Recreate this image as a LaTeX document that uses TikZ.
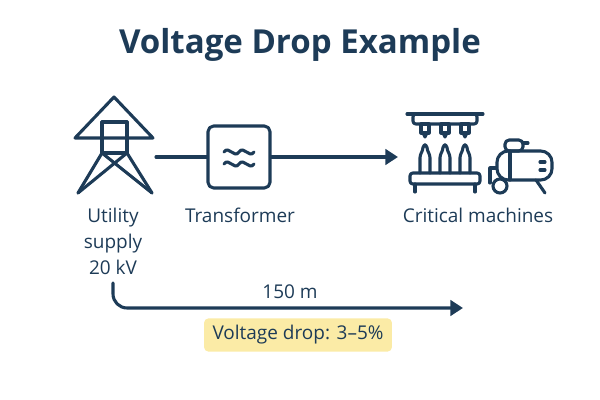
\documentclass[tikz,border=0pt]{standalone}
\usepackage{fontspec}
\setmainfont{Open Sans}
\usetikzlibrary{arrows.meta}
\definecolor{navy}{HTML}{1D3B57}
\definecolor{note}{HTML}{FBEBA6}
\begin{document}
\begin{tikzpicture}[x=0.025cm,y=-0.025cm,line width=2.2pt,draw=navy,line join=round,line cap=round,
  label text/.style={text=navy,font=\fontsize{13.5}{18.5}\selectfont,align=center},
  flow/.style={draw=navy,-{Triangle[length=9pt,width=11pt]}}]
\useasboundingbox (0,0) rectangle (600,400);

\node[text=navy,font=\fontsize{23.5}{26}\selectfont\bfseries] (title) at (300,45) {Voltage Drop Example};

% tower
\draw (75,138) -- (114,97) -- (153,138) -- cycle;
\draw (102,122) -- (127,122);
\draw (102,122) -- (102,153) -- (127,153) -- (127,122);
\draw (102,153) -- (78,193) (127,153) -- (152,193);
\draw (102,153) -- (152,193) (127,153) -- (78,193);
\coordinate (tower) at (156,157);

% transformer
\node[draw=navy,rounded corners=4pt,minimum size=1.55cm] (trafo) at (239,157) {};
\draw (224,152) .. controls (229,145) and (234,159) .. (239,152) .. controls (244,145) and (249,159) .. (254,152);
\draw (224,164) .. controls (229,157) and (234,171) .. (239,164) .. controls (244,157) and (249,171) .. (254,164);
\draw (tower) -- (trafo);
\coordinate (mach) at (398,157);
\draw[flow] (trafo) -- (mach);

% conveyor machine
\draw (407,114) -- (483,114);
\draw[rounded corners=2pt] (413,114) rectangle (477,124);
\foreach \x in {425,445,465}{
  \draw (\x-4,124) rectangle (\x+4,133);
  \draw (\x-2,133) -- (\x,137) -- (\x+2,133);
  \draw[rounded corners=2pt] (\x-5,173) -- (\x-5,155) -- (\x-2,150) -- (\x-2,145) -- (\x+2,145) -- (\x+2,150) -- (\x+5,155) -- (\x+5,173);
}
\draw[rounded corners=2pt] (410,173) rectangle (480,184);
\draw (415,184) -- (415,192) (475,184) -- (475,192);

% compressor
\draw[rounded corners=3pt] (505,140) rectangle (523,151);
\draw (523,143) -- (528,143);
\draw[rounded corners=8pt] (497,151) rectangle (552,180);
\draw (540,162) -- (545,162) (540,170) -- (545,170);
\draw (510,151) -- (510,180);
\draw (496,168) -- (490,168) -- (490,183);
\draw[fill=white] (500,186) circle (7);
\draw (536,180) -- (545,193);

% labels
\node[label text] (supply) at (113,241) {Utility\\supply\\20 kV};
\node[label text] (tlabel) at (240,215) {Transformer};
\node[label text] (mlabel) at (478,215) {Critical machines};
\node[label text] (dist) at (290,292) {150 m};

% distance arrow
\coordinate (run) at (113,283);
\coordinate (runend) at (463,308);
\draw[flow,rounded corners=10pt] (run) |- (runend);

\node[fill=note,rounded corners=3pt,inner xsep=6pt,inner ysep=5pt,text=navy,font=\fontsize{13.5}{16}\selectfont] (drop) at (298,335) {Voltage drop: 3--5\%};
\end{tikzpicture}
\end{document}
